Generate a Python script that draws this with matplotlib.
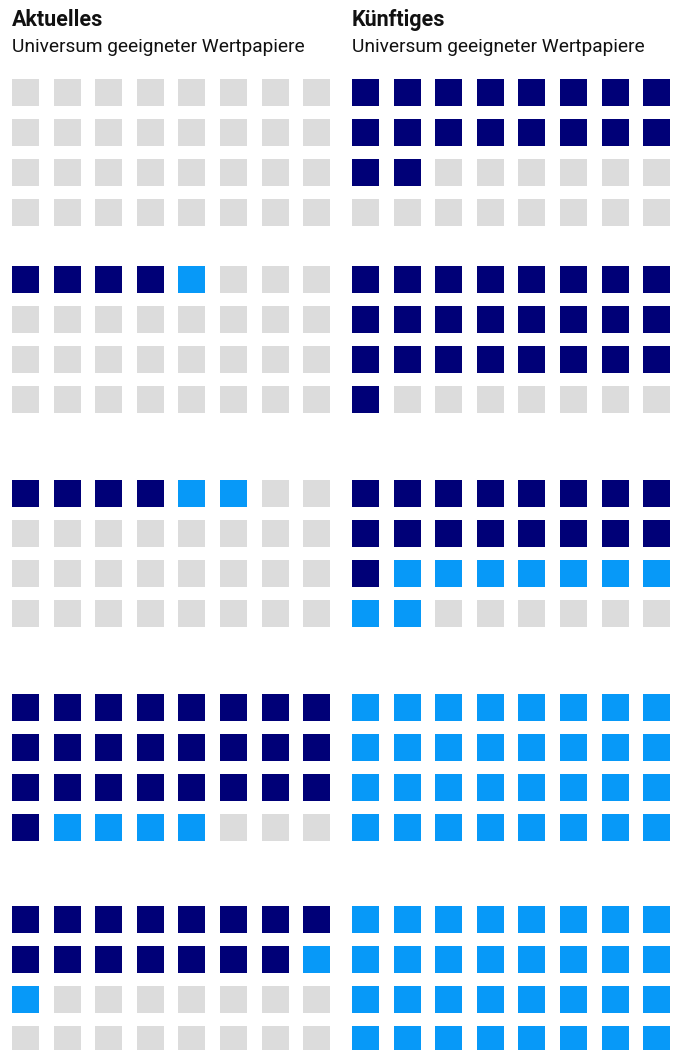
import matplotlib
matplotlib.use("Agg")
import matplotlib.pyplot as plt

# squares per block (out of 32), top to bottom
aktuell_dark = [0, 4, 4, 25, 15]
aktuell_light = [0, 1, 2, 4, 2]
kuenftig_dark = [18, 25, 17, 0, 0]
kuenftig_light = [0, 0, 9, 32, 32]

titles = ["Aktuelles", "Künftiges"]
subtitle = "Universum geeigneter Wertpapiere"

DARK = "#000077"
LIGHT = "#0799F8"
GREY = "#DCDCDC"

# layout in pixels
W, H = 686, 1050
col_x0 = [12, 352]
pitch_x = 41.6
pitch_y = 40
size = 27
block_top = [79, 266, 480, 694, 906]
ncols, nrows = 8, 4

fig = plt.figure(figsize=(W / 100, H / 100), dpi=100)
ax = fig.add_axes([0, 0, 1, 1])
ax.set_xlim(0, W)
ax.set_ylim(H, 0)
ax.axis("off")


def draw_block(x0, y0, n_dark, n_light):
    xs, ys, cols = [], [], []
    for i in range(ncols * nrows):
        r, c = divmod(i, ncols)
        xs.append(x0 + c * pitch_x)
        ys.append(y0 + r * pitch_y)
        if i < n_dark:
            cols.append(DARK)
        elif i < n_dark + n_light:
            cols.append(LIGHT)
        else:
            cols.append(GREY)
    ax.bar(xs, size, width=size, bottom=ys, color=cols, align="edge", linewidth=0)


for k, top in enumerate(block_top):
    draw_block(col_x0[0], top, aktuell_dark[k], aktuell_light[k])
    draw_block(col_x0[1], top, kuenftig_dark[k], kuenftig_light[k])

for j, t in enumerate(titles):
    ax.text(col_x0[j], 26, t, fontsize=15.5, fontweight="bold", family="Roboto",
            va="baseline", ha="left", color="#111111")
    ax.text(col_x0[j], 52.5, subtitle, fontsize=13.8, family="Roboto",
            va="baseline", ha="left", color="#111111")

fig.savefig("out.png", dpi=100)
